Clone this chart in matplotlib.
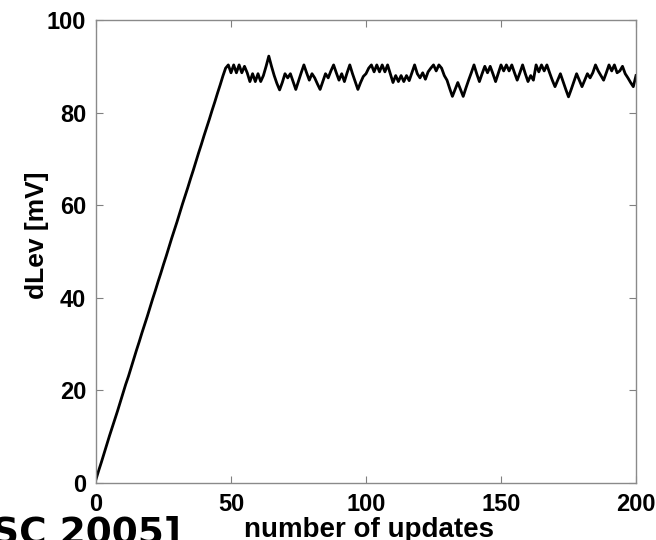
import matplotlib
matplotlib.use("Agg")
import matplotlib.pyplot as plt
import numpy as np

# ---- data ----
ramp_values = [0.8, 2.7, 4.5, 6.4, 8.3, 10.2, 12.0, 13.8, 15.6, 17.5,
               19.4, 21.3, 23.0, 24.9, 26.8, 28.7, 30.5, 32.4, 34.2, 36.0,
               37.9, 39.8, 41.6, 43.5, 45.3, 47.2, 49.0, 50.9, 52.8, 54.6,
               56.4, 58.3, 60.2, 62.0, 63.8, 65.7, 67.5, 69.4, 71.3, 73.1,
               75.0, 76.8, 78.6, 80.5, 82.3, 84.2, 86.0, 87.9]
steady_values = [89.6, 90.3, 88.6, 90.3, 88.6, 90.3, 88.6, 90.0, 88.6, 86.7,
                 88.4, 86.7, 88.4, 86.7, 88.0, 90.0, 92.2, 90.0, 88.0, 86.3,
                 84.9, 86.5, 88.4, 87.5, 88.4, 86.7, 85.0, 86.8, 88.6, 90.3,
                 88.6, 87.0, 88.4, 87.5, 86.2, 85.0, 86.7, 88.4, 87.5, 89.0,
                 90.3, 88.6, 87.0, 88.4, 86.7, 88.6, 90.3, 88.4, 86.7, 85.0,
                 86.5, 87.8, 88.4, 89.6, 90.3, 88.8, 90.3, 88.8, 90.3, 88.8,
                 90.3, 88.4, 86.5, 88.0, 86.7, 88.0, 86.7, 88.0, 86.9, 88.6,
                 90.3, 88.4, 87.5, 88.6, 87.2, 88.8, 89.6, 90.3, 89.0, 90.3,
                 89.6, 88.0, 87.0, 85.2, 83.5, 85.0, 86.5, 85.0, 83.5, 85.3,
                 87.0, 88.6, 90.3, 88.4, 86.7, 88.4, 90.0, 88.6, 90.0, 88.4,
                 86.7, 88.5, 90.3, 89.0, 90.3, 89.0, 90.3, 88.6, 87.0, 88.6,
                 90.3, 88.4, 86.7, 88.0, 87.0, 90.3, 88.8, 90.3, 89.0, 90.3,
                 88.6, 87.0, 85.6, 87.0, 88.4, 86.7, 85.0, 83.4, 85.0, 86.7,
                 88.4, 87.0, 85.6, 87.0, 88.4, 87.5, 88.6, 90.3, 89.0, 88.0,
                 87.0, 88.6, 90.3, 89.0, 90.3, 88.6, 89.0, 90.0, 88.4, 87.5,
                 86.5, 85.6, 88.0]
dlev = ramp_values + steady_values
updates = list(range(len(dlev)))

x_ticks = [0, 50, 100, 150, 200]
y_ticks = [0, 20, 40, 60, 80, 100]
x_label = "number of updates"
y_label = "dLev [mV]"
citation = "SC 2005]"

# ---- figure ----
W, H = 656, 540
fig = plt.figure(figsize=(W / 100, H / 100), dpi=100)
fig.patch.set_facecolor("white")
ax = fig.add_axes([96 / W, (H - 483) / H, 540 / W, 463 / H])

ax.plot(updates, dlev, color="black", linewidth=2.0)

ax.set_xlim(0, 200)
ax.set_ylim(0, 100)
ax.set_xticks(x_ticks)
ax.set_yticks(y_ticks)

tick_font = dict(family="Liberation Sans", weight="bold", size=17)
ax.set_xticklabels([str(t) for t in x_ticks], fontdict=tick_font)
ax.set_yticklabels([str(t) for t in y_ticks], fontdict=tick_font)

ax.tick_params(direction="in", length=5, width=0.8, color="#808080",
               top=True, right=True, pad=7)
for s in ax.spines.values():
    s.set_color("#8a8a8a")
    s.set_linewidth(1.0)

ax.set_xlabel(x_label, family="Liberation Sans", weight="bold", size=20,
              va="baseline")
ax.xaxis.set_label_coords(0.505, (483 - 537) / 463)
ax.set_ylabel(y_label, family="Liberation Sans", weight="bold", size=19)
ax.yaxis.set_label_coords((49 - 96) / 540, (483 - 235) / 463)

fig.text(-8 / W, 1 - 516 / H, citation, family="DejaVu Sans", weight="bold",
         size=27, ha="left", va="top")

fig.savefig("out.png", dpi=100)
